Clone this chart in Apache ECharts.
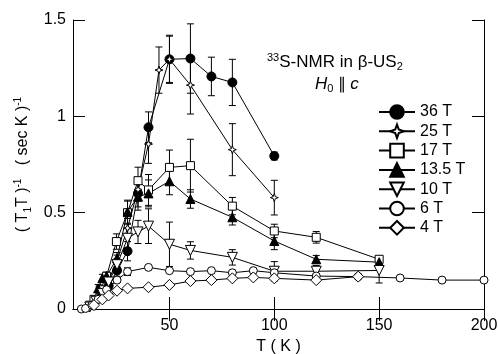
<!DOCTYPE html>
<html>
<head>
<meta charset="utf-8">
<script src="https://cdn.jsdelivr.net/npm/echarts@6/dist/echarts.min.js"></script>
<style>
  html, body { margin: 0; padding: 0; background: #fff; }
  #chart { width: 498px; height: 354px; }
</style>
</head>
<body>
<div id="chart"></div>
<script>
// [T (K), 1/(T1 T), error]
const s36 = [[18, 0.07, 0], [21, 0.12, 0.02], [25, 0.2, 0.03], [30, 0.3, 0.05], [35, 0.6, 0.07], [40, 0.943, 0.08],
  [50, 1.296, 0.125], [60, 1.3, 0.18], [70, 1.207, 0.1], [80, 1.176, 0.12], [100, 0.794, 0.02]];
const s25 = [[15, 0.04, 0], [18, 0.08, 0.01], [21, 0.15, 0.02], [25, 0.25, 0.03], [30, 0.42, 0.05], [35, 0.62, 0.06],
  [40, 0.856, 0.1], [45, 1.24, 0.12], [50, 1.296, 0.12], [60, 1.162, 0.15], [80, 0.827, 0.135], [100, 0.578, 0.09]];
const s17 = [[12, 0.02, 0], [14, 0.05, 0], [17, 0.1, 0.01], [20, 0.17, 0.02], [24.7, 0.35, 0.04], [30, 0.5, 0.06],
  [35, 0.666, 0.07], [40, 0.618, 0.08], [50, 0.735, 0.09], [60, 0.744, 0.137], [80, 0.534, 0.045],
  [100, 0.405, 0.035], [120, 0.372, 0.03], [150, 0.258, 0.015]];
const s13 = [[13, 0.02, 0], [16, 0.107, 0.02], [18, 0.16, 0.02], [20, 0.171, 0.02], [25, 0.263, 0.03], [30, 0.505, 0.06],
  [35, 0.583, 0.07], [40, 0.6, 0.07], [50, 0.663, 0.07], [60, 0.571, 0.048], [80, 0.476, 0.04],
  [100, 0.353, 0.045], [120, 0.258, 0.02], [150, 0.243, 0.02]];
const s10 = [[12, 0.01, 0], [15, 0.04, 0.01], [18, 0.08, 0.015], [21, 0.14, 0.02], [25, 0.23, 0.03], [30, 0.367, 0.05],
  [35, 0.4, 0.06], [40, 0.43, 0.09], [50, 0.336, 0.115], [60, 0.304, 0.045], [80, 0.268, 0.04],
  [100, 0.196, 0.05], [120, 0.196, 0.03], [150, 0.2, 0.065]];
const s6 = [[8, 0, 0], [10, 0.003, 0], [13, 0.02, 0], [16, 0.05, 0], [20, 0.1, 0], [25, 0.15, 0.01], [30, 0.194, 0.02],
  [40, 0.216, 0.01], [50, 0.199, 0], [60, 0.194, 0], [70, 0.199, 0], [80, 0.188, 0], [90, 0.199, 0],
  [100, 0.188, 0.01], [120, 0.171, 0.01], [140, 0.168, 0], [160, 0.161, 0], [180, 0.15, 0], [200, 0.15, 0]];
const s4 = [[14, 0.02, 0], [18, 0.05, 0], [21, 0.07, 0], [25, 0.095, 0], [30, 0.107, 0], [40, 0.113, 0], [50, 0.125, 0],
  [60, 0.145, 0], [70, 0.15, 0], [80, 0.159, 0], [90, 0.164, 0], [100, 0.159, 0], [120, 0.15, 0], [140, 0.168, 0]];

const xTicks = [50, 100, 150, 200];

const FONT = 'Liberation Sans';
const STAR = 'path://M0 -10 L2.6 -2.6 L10 0 L2.6 2.6 L0 10 L-2.6 2.6 L-10 0 L-2.6 -2.6 Z';

const SERIES_DEFS = [
  { name: '36 T', data: s36, symbol: 'circle', size: 9, fill: '#000' },
  { name: '25 T', data: s25, symbol: STAR, size: 8, fill: '#fff' },
  { name: '17 T', data: s17, symbol: 'rect', size: 8, fill: '#fff' },
  { name: '13.5 T', data: s13, symbol: 'triangle', size: 9, fill: '#000' },
  { name: '10 T', data: s10, symbol: 'triangle', size: 10, fill: '#fff', rotate: 180 },
  { name: '6 T', data: s6, symbol: 'circle', size: 8, fill: '#fff' },
  { name: '4 T', data: s4, symbol: 'diamond', size: 11, fill: '#fff' },
];

function renderErr(params, api) {
  const e = api.value(2);
  if (!e) return null;
  const x = api.value(0);
  const y = api.value(1);
  const top = api.coord([x, y + e]);
  const bot = api.coord([x, y - e]);
  const w = 3.5;
  const style = { stroke: '#000', lineWidth: 1 };
  return {
    type: 'group',
    children: [
      { type: 'line', shape: { x1: top[0], y1: top[1], x2: bot[0], y2: bot[1] }, style },
      { type: 'line', shape: { x1: top[0] - w, y1: top[1], x2: top[0] + w, y2: top[1] }, style },
      { type: 'line', shape: { x1: bot[0] - w, y1: bot[1], x2: bot[0] + w, y2: bot[1] }, style },
    ],
  };
}

const lineSeries = SERIES_DEFS.map((d) => ({
  name: d.name,
  type: 'line',
  data: d.data.map((p) => [p[0], p[1]]),
  symbol: d.symbol,
  symbolSize: d.size,
  symbolRotate: d.rotate || 0,
  showAllSymbol: true,
  z: 3,
  lineStyle: { color: '#000', width: 1 },
  itemStyle: { color: d.fill, borderColor: '#000', borderWidth: 1 },
}));

const errSeries = SERIES_DEFS.map((d) => ({
  type: 'custom',
  renderItem: renderErr,
  data: d.data,
  encode: { x: 0, y: 1 },
  z: 2,
  silent: true,
}));

const axisCommon = {
  axisLine: { show: true, lineStyle: { color: '#000', width: 1 } },
  axisTick: { show: true, inside: true, length: 12, lineStyle: { color: '#000' } },
  splitLine: { show: false },
};

const chart = echarts.init(document.getElementById('chart'), null, { renderer: 'canvas' });
chart.setOption({
  animation: false,
  backgroundColor: '#fff',
  grid: { left: 73, right: 14, top: 20, bottom: 45, outerBoundsMode: 'none', containLabel: false },
  textStyle: { fontFamily: FONT },
  xAxis: [
    {
      ...axisCommon,
      type: 'value', min: 4, max: 200, position: 'bottom',
      axisTick: { ...axisCommon.axisTick, customValues: xTicks },
      axisLabel: { customValues: xTicks, color: '#000', fontSize: 16, fontFamily: FONT, margin: 9 },
      name: 'T ( K )', nameLocation: 'middle', nameGap: 26,
      nameTextStyle: { color: '#000', fontSize: 16, fontFamily: FONT },
    },
    {
      ...axisCommon,
      type: 'value', min: 4, max: 200, position: 'top',
      axisTick: { ...axisCommon.axisTick, customValues: xTicks },
      axisLabel: { show: false },
    },
  ],
  yAxis: [
    {
      ...axisCommon,
      type: 'value', min: 0, max: 1.5, interval: 0.5, position: 'left',
      axisLabel: { color: '#000', fontSize: 16, fontFamily: FONT, margin: 7 },
      name: '( T{sub|1}T ){sup|-1}   ( sec K ){sup|-1}', nameLocation: 'middle', nameGap: 34, nameRotate: 90,
      nameTextStyle: {
        color: '#000', fontSize: 16, fontFamily: FONT, lineHeight: 20,
        rich: {
          sub: { fontSize: 10, fontFamily: FONT, color: '#000', verticalAlign: 'bottom', lineHeight: 20 },
          sup: { fontSize: 10, fontFamily: FONT, color: '#000', verticalAlign: 'top', lineHeight: 20 },
        },
      },
    },
    {
      ...axisCommon,
      type: 'value', min: 0, max: 1.5, interval: 0.5, position: 'right',
      axisLabel: { show: false },
    },
  ],
  legend: {
    orient: 'vertical',
    left: 373, top: 99,
    itemWidth: 36, itemHeight: 17, itemGap: 3.3,
    textStyle: { color: '#000', fontSize: 16, fontFamily: FONT },
    data: SERIES_DEFS.map((d) => d.name),
  },
  graphic: [
    {
      type: 'text', left: 267, top: 52,
      style: {
        text: '{sup|33}S-NMR in β-US{sub|2}',
        fill: '#000', font: '17px "Liberation Sans"',
        rich: {
          sup: { fontSize: 11, fontFamily: FONT, fill: '#000', verticalAlign: 'top', lineHeight: 20 },
          sub: { fontSize: 11, fontFamily: FONT, fill: '#000', verticalAlign: 'bottom', lineHeight: 20 },
        },
      },
    },
    {
      type: 'text', left: 315, top: 76,
      style: {
        text: '{i|H}{sub|0} ∥ {i|c}',
        fill: '#000', font: '16px "Liberation Sans"',
        rich: {
          i: { fontSize: 17, fontFamily: FONT, fontStyle: 'italic', fill: '#000', lineHeight: 20 },
          sub: { fontSize: 11, fontFamily: FONT, fill: '#000', verticalAlign: 'bottom', lineHeight: 20 },
        },
      },
    },
  ],
  series: [...errSeries, ...lineSeries],
});
</script>
</body>
</html>
